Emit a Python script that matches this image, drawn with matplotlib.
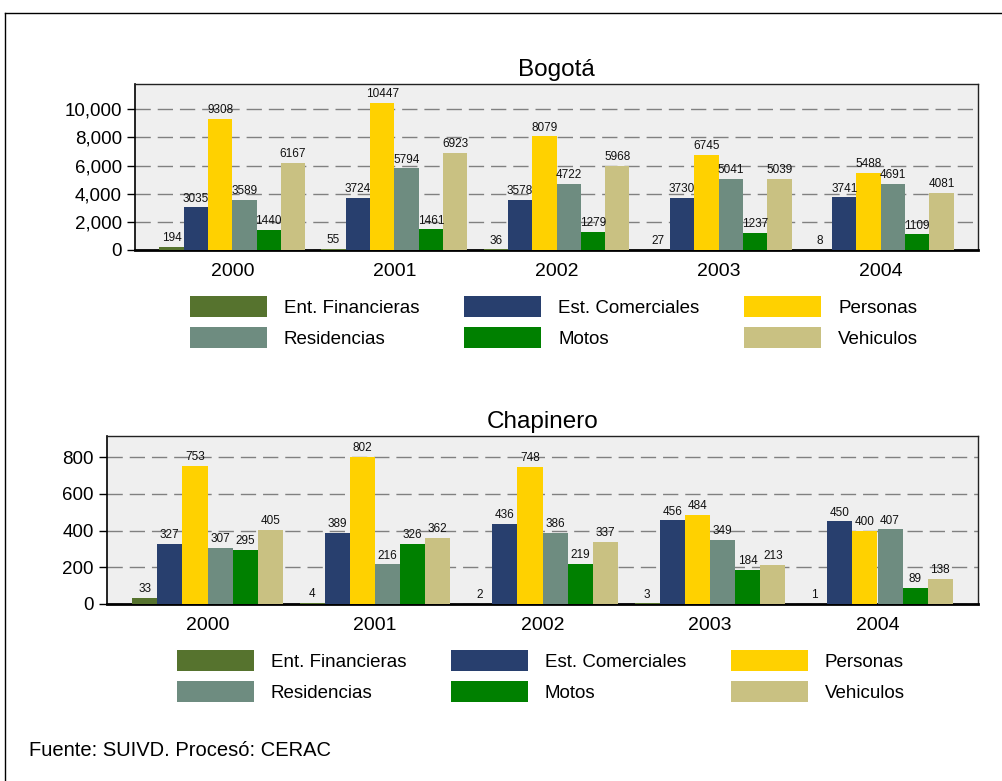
import matplotlib
matplotlib.use("Agg")
import matplotlib.pyplot as plt
from matplotlib.lines import Line2D
from matplotlib.patches import Patch
from matplotlib.ticker import FuncFormatter
import numpy as np

plt.rcParams['font.family'] = ['Liberation Sans', 'DejaVu Sans']

years = ['2000', '2001', '2002', '2003', '2004']
series = ['Ent. Financieras', 'Est. Comerciales', 'Personas',
          'Residencias', 'Motos', 'Vehiculos']
colors = ['#56732E', '#283F6E', '#FFD100', '#6E8C80', '#008000', '#C9C182']

# Bogota
bog_ent = [194, 55, 36, 27, 8]
bog_est = [3035, 3724, 3578, 3730, 3741]
bog_per = [9308, 10447, 8079, 6745, 5488]
bog_res = [3589, 5794, 4722, 5041, 4691]
bog_mot = [1440, 1461, 1279, 1237, 1109]
bog_veh = [6167, 6923, 5968, 5039, 4081]

# Chapinero
cha_ent = [33, 4, 2, 3, 1]
cha_est = [327, 389, 436, 456, 450]
cha_per = [753, 802, 748, 484, 400]
cha_res = [307, 216, 386, 349, 407]
cha_mot = [295, 326, 219, 184, 89]
cha_veh = [405, 362, 337, 213, 138]

W, H = 1003, 781
fig = plt.figure(figsize=(W / 100, H / 100), dpi=100)


def box(l, r, t, b):
    return [l / W, 1 - b / H, (r - l) / W, (b - t) / H]


def draw(ax, data, title, ymax, yticks, fmt):
    x = np.arange(len(years))
    w = 0.15
    ax.set_facecolor('#EFEFEF')
    for i, vals in enumerate(data):
        pos = x + (i - 2.5) * w
        bars = ax.bar(pos, vals, w, color=colors[i], zorder=3)
        for b, v in zip(bars, vals):
            ax.annotate(str(v), (b.get_x() + b.get_width() / 2, v),
                        xytext=(0, 2), textcoords='offset points',
                        ha='center', va='bottom', fontsize=8.5, color='#111111',
                        zorder=4)
    ax.set_xlim(-0.6, 4.6)
    ax.set_ylim(0, ymax)
    ax.set_yticks(yticks)
    ax.yaxis.set_major_formatter(FuncFormatter(fmt))
    ax.set_xticks(x)
    ax.set_xticklabels(years)
    ax.tick_params(axis='x', length=0, pad=9, labelsize=14)
    ax.tick_params(axis='y', length=6, width=1, pad=3.5, labelsize=13.5)
    ax.grid(axis='y', color='#808080', linestyle=(0, (11, 5)), lw=1, zorder=1)
    for s in ['top', 'right']:
        ax.spines[s].set_color('#222222')
        ax.spines[s].set_linewidth(1)
    ax.spines['left'].set_color('black')
    ax.spines['left'].set_linewidth(1.2)
    ax.spines['bottom'].set_color('black')
    ax.spines['bottom'].set_linewidth(2)
    ax.set_title(title, fontsize=17.5, pad=6)


ax1 = fig.add_axes(box(135, 978, 84, 250))
draw(ax1, [bog_ent, bog_est, bog_per, bog_res, bog_mot, bog_veh], 'Bogotá',
     11800, [0, 2000, 4000, 6000, 8000, 10000], lambda v, p: f'{int(v):,}')

ax2 = fig.add_axes(box(107, 978, 436, 604))
draw(ax2, [cha_ent, cha_est, cha_per, cha_res, cha_mot, cha_veh], 'Chapinero',
     916, [0, 200, 400, 600, 800], lambda v, p: f'{int(v)}')

handles = [Patch(facecolor=c, edgecolor='none') for c in colors]
order = [0, 3, 1, 4, 2, 5]
for cx, cy in [(554, 322), (541, 676)]:
    fig.legend([handles[i] for i in order], [series[i] for i in order],
               ncol=3, loc='center', bbox_to_anchor=(cx / W, 1 - cy / H),
               frameon=False, fontsize=13.5, handlelength=4.1,
               handleheight=1.3, handletextpad=0.9, columnspacing=2.4,
               labelspacing=0.55)

fig.text(29 / W, 1 - 751 / H, 'Fuente: SUIVD. Procesó: CERAC', fontsize=14.5,
         va='center', ha='left')

fig.add_artist(Line2D([5 / W, 1], [1 - 13 / H, 1 - 13 / H], color='black', lw=1))
fig.add_artist(Line2D([5 / W, 5 / W], [0, 1 - 13 / H], color='black', lw=1))

fig.savefig('out.png', dpi=100)
